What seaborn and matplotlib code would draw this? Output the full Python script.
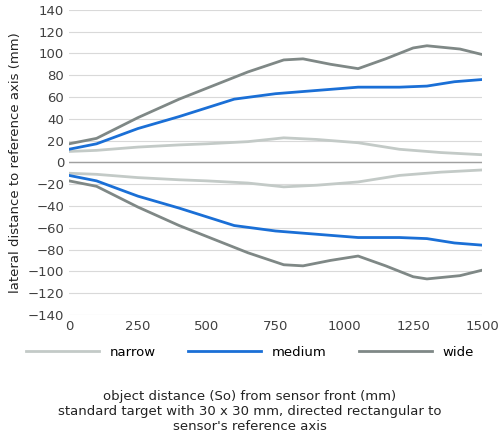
import matplotlib
matplotlib.use("Agg")
import matplotlib.pyplot as plt
import seaborn as sns
import pandas as pd

x_narrow = [0, 100, 250, 400, 500, 650, 780, 900, 1050, 1200, 1350, 1500]
narrow = [10, 11, 14, 16, 17, 19, 22.5, 21, 18, 12, 9, 7]
x_medium = [0, 100, 250, 400, 500, 600, 750, 900, 1050, 1200, 1300, 1400, 1500]
medium = [12, 17, 31, 42, 50, 58, 63, 66, 69, 69, 70, 74, 76]
x_wide = [0, 100, 250, 400, 500, 650, 780, 850, 950, 1050, 1150, 1250, 1300, 1420, 1500]
wide = [17, 22, 41, 58, 68, 83, 94, 95, 90, 86, 95, 105, 107, 104, 99]

rows = []
for name, xs, ys in [("narrow", x_narrow, narrow), ("medium", x_medium, medium), ("wide", x_wide, wide)]:
    for sign, part in [(1, "up"), (-1, "down")]:
        for xv, yv in zip(xs, ys):
            rows.append({"x": xv, "y": sign * yv, "series": name, "part": part})
df = pd.DataFrame(rows)

colors = {"narrow": "#c3cac7", "medium": "#1a6fd6", "wide": "#7f8886"}

fig = plt.figure(figsize=(5, 4.46), dpi=100)
ax = fig.add_axes([0.138, 0.294, 0.826, 0.684])
for name in ["narrow", "medium", "wide"]:
    for part in ["up", "down"]:
        d = df[(df.series == name) & (df.part == part)]
        sns.lineplot(data=d, x="x", y="y", ax=ax, color=colors[name], lw=2,
                     label=name if part == "up" else None, legend=False)

ax.set_xlim(0, 1500)
ax.set_ylim(-140, 140)
ax.set_xticks(range(0, 1501, 250))
ax.set_yticks(range(-140, 141, 20))
ax.grid(axis="y", color="#d9d9d9", lw=0.8)
ax.set_axisbelow(True)
ax.axhline(0, color="#a0a0a0", lw=1)
for s in ax.spines.values():
    s.set_visible(False)
ax.tick_params(length=0, labelsize=9.5, colors="#404040")
ax.set_xlabel("")
ax.set_ylabel("lateral distance to reference axis (mm)", fontsize=9.5, color="#222222")
handles, labels = ax.get_legend_handles_labels()
fig.legend(handles, labels, loc="center", bbox_to_anchor=(0.5, 0.21), ncol=3,
           frameon=False, fontsize=9.5, handlelength=5.5, columnspacing=2.5)
fig.text(0.5, 0.03, "object distance (So) from sensor front (mm)\nstandard target with 30 x 30 mm, directed rectangular to\nsensor's reference axis",
         ha="center", va="bottom", fontsize=9.5, color="#222222", linespacing=1.2)
fig.savefig("out.png", dpi=100)
